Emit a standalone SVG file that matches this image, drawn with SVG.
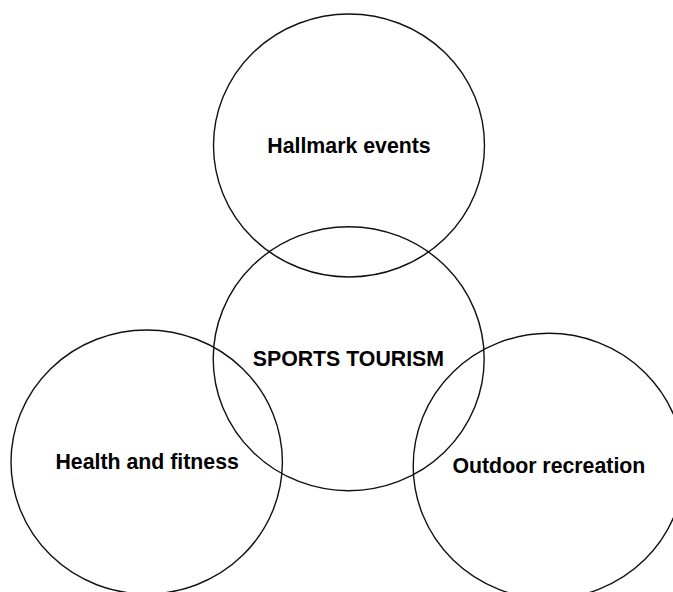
<svg xmlns="http://www.w3.org/2000/svg" width="673" height="592" viewBox="0 0 673 592">
  <style>
    .c { fill: none; stroke: #111; stroke-width: 1.4; }
    .t { font-family: "Liberation Sans", Arial, sans-serif; font-weight: bold; font-size: 21.3px; fill: #000; text-anchor: middle; }
  </style>
  <rect width="673" height="592" fill="#fff"/>
  <g id="hallmark">
    <ellipse class="c" cx="349" cy="145.5" rx="135.5" ry="131.5"/>
    <text class="t" x="349" y="153.3">Hallmark events</text>
  </g>
  <g id="sports-tourism">
    <ellipse class="c" cx="348.7" cy="358.7" rx="135.5" ry="132"/>
    <text class="t" x="348.4" y="365.7">SPORTS TOURISM</text>
  </g>
  <g id="health">
    <ellipse class="c" cx="146.7" cy="462" rx="135.7" ry="132"/>
    <text class="t" x="147.2" y="469.3">Health and fitness</text>
  </g>
  <g id="outdoor">
    <ellipse class="c" cx="548.7" cy="466" rx="135.5" ry="132.7"/>
    <text class="t" x="548.9" y="473.3">Outdoor recreation</text>
  </g>
  <g id="connectors"></g>
</svg>
